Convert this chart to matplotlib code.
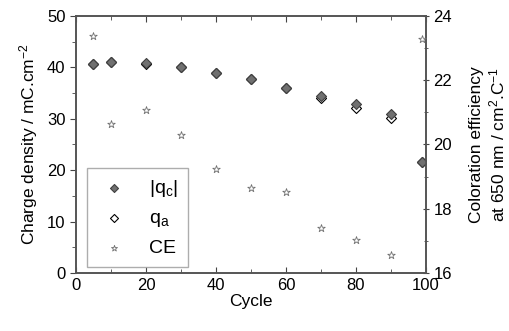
import numpy as np
import matplotlib
matplotlib.use('Agg')
import matplotlib.pyplot as plt

matplotlib.rcParams['font.family'] = ['Liberation Sans', 'DejaVu Sans']
matplotlib.rcParams['mathtext.fontset'] = 'custom'
matplotlib.rcParams['mathtext.rm'] = 'Liberation Sans'
matplotlib.rcParams['mathtext.it'] = 'Liberation Sans'

# cycle number
cycles = [5, 10, 20, 30, 40, 50, 60, 70, 80, 90, 99]
# charge densities (mC/cm2)
qc = [40.7, 41.1, 40.8, 40.0, 38.9, 37.8, 36.0, 34.5, 32.9, 30.9, 21.5]
qa = [40.7, 41.1, 40.6, 40.0, 38.9, 37.8, 35.9, 34.1, 32.1, 30.2, 21.5]
# coloration efficiency (cm2/C)
ce = [23.38, 20.64, 21.07, 20.30, 19.24, 18.64, 18.51, 17.39, 17.03, 16.56, 23.27]

fig = plt.figure(figsize=(5.1, 3.31), dpi=100)
ax = fig.add_axes([0.149, 0.175, 0.686, 0.777])
ax2 = ax.twinx()

h2 = ax.scatter(cycles, qa, marker='D', s=26, facecolor='white', edgecolor='black', linewidth=0.8, zorder=3, label=r'q$_\mathregular{a}$')
h1 = ax.scatter(cycles, qc, marker='D', s=26, facecolor='#707070', edgecolor='#404040', linewidth=0.8, zorder=4, label=r'|q$_\mathregular{c}$|')
h3 = ax2.scatter(cycles, ce, marker='*', s=32, facecolor='white', edgecolor='#707070', linewidth=0.6, zorder=3, label='CE')

ax.set_xlim(0, 100)
ax.set_ylim(0, 50)
ax2.set_ylim(16, 24)
ax.set_xticks([0, 20, 40, 60, 80, 100])
ax.set_xticks(np.arange(10, 100, 20), minor=True)
ax.set_yticks(np.arange(0, 51, 10))
ax.set_yticks(np.arange(5, 50, 10), minor=True)
ax2.set_yticks([16, 18, 20, 22, 24])
ax2.set_yticks([17, 19, 21, 23], minor=True)

ax.tick_params(axis='x', which='both', direction='in', top=True, labelsize=12, length=4, color='#444444')
ax.tick_params(axis='y', which='both', direction='out', labelsize=12, length=4, color='#444444')
ax2.tick_params(axis='y', which='both', direction='inout', labelsize=12, length=4, color='#444444')
ax.tick_params(which='minor', length=3)
ax2.tick_params(which='minor', length=3)

for a in (ax, ax2):
    for s in a.spines.values():
        s.set_color('#555555')
        s.set_linewidth(1.2)

ax.set_xlabel('Cycle', fontsize=12.5, labelpad=1)
ax.set_ylabel(r'Charge density / mC.cm$^\mathregular{-2}$', fontsize=12.5, labelpad=5)
ax2.set_ylabel('Coloration efficiency\n' + r'at 650 nm / cm$^\mathregular{2}$.C$^\mathregular{-1}$', fontsize=12.5, labelpad=12)

leg = ax.legend([h1, h2, h3], [r'|q$_\mathregular{c}$|', r'q$_\mathregular{a}$', 'CE'],
                loc='lower left', bbox_to_anchor=(0.031, 0.023), borderaxespad=0, fontsize=14, fancybox=False,
                handletextpad=0.9, handlelength=1.8, labelspacing=0.55, borderpad=0.5, markerscale=0.8)
leg.get_frame().set_edgecolor('#999999')
leg.get_frame().set_linewidth(1.0)

fig.savefig('out.png', dpi=100)
